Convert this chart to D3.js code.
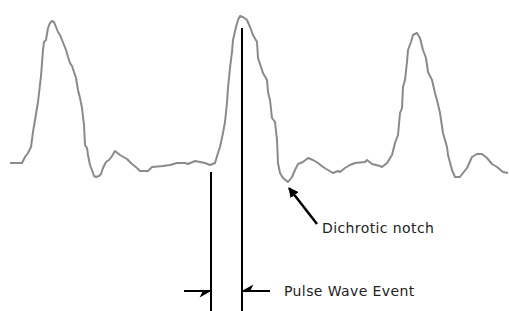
<!DOCTYPE html>
<html>
<head>
<meta charset="utf-8">
<script src="https://cdn.jsdelivr.net/npm/d3@7"></script>
<style>
  html, body { margin: 0; padding: 0; background: #fff; }
  svg { display: block; }
  text { font-family: "DejaVu Sans", sans-serif; font-size: 14px; letter-spacing: 0.4px; fill: #222; }
</style>
</head>
<body>
<div id="chart"></div>
<script>
// waveform samples (sample index) and amplitude
const sampleIdx = [10, 22, 25, 28, 31, 33, 35, 38, 41, 43, 44, 46, 48, 50, 52, 54, 56, 58, 60, 62, 64, 66, 68, 70, 72, 74, 76, 78, 80, 82, 84, 85, 87, 88, 90, 92, 94, 96, 99, 101, 103, 106, 109, 112, 115, 120, 127, 132, 137, 140, 148, 152, 163,
  170, 177, 185, 188, 195, 200, 205, 210, 215, 218, 220, 223, 225, 227, 228, 230, 232, 233, 236, 238, 240, 243, 247, 250, 253, 257, 258, 261, 263, 267, 268, 270, 272, 275, 277, 278, 280, 283, 288, 292, 295, 298, 303, 308, 313, 318, 323, 328, 333, 338,
  340, 345, 350, 355, 365, 367, 372, 380, 382, 387, 392, 395, 398, 400, 402, 403, 405, 407, 408, 411, 413, 417, 420, 423, 426, 428, 432, 435, 437, 440, 443, 447, 448, 452, 455, 460, 463, 467, 472, 477, 482, 487, 492, 497, 503, 508];
const pressure = [37, 37, 43, 47, 53, 68, 80, 98, 124, 150, 158, 160, 172, 177, 179, 178, 173, 168, 165, 160, 155, 150, 143, 137, 134, 128, 122, 110, 102, 92, 75, 55, 52, 45, 35, 30, 24, 23, 24, 26, 32, 38, 40, 44, 49, 45, 41, 36, 32, 29, 29, 33, 34,
  35, 37, 37, 36, 39, 38, 37, 35, 37, 47, 53, 67, 78, 97, 112, 132, 148, 160, 173, 180, 184, 183, 180, 173, 165, 158, 142, 133, 127, 120, 108, 100, 82, 78, 60, 37, 27, 22, 18, 23, 30, 36, 38, 42, 40, 37, 33, 30, 27, 29,
  28, 32, 35, 37, 38, 40, 36, 34, 33, 37, 45, 57, 65, 87, 92, 113, 120, 138, 150, 158, 165, 167, 162, 150, 142, 128, 120, 107, 100, 87, 67, 53, 45, 30, 23, 23, 27, 32, 43, 46, 46, 42, 36, 33, 28, 27];

// annotation positions (sample index)
const eventStart = 211, eventPeak = 242;
const notchSample = 289;
const labels = ["Dichrotic notch", "Pulse Wave Event"];

const width = 509, height = 311;

const x = d3.scaleLinear().domain([0, 509]).range([0, width]);
const y = d3.scaleLinear().domain([0, 200]).range([200, 0]);

const svg = d3.select("#chart").append("svg").attr("width", width).attr("height", height);

svg.append("defs").append("marker")
  .attr("id", "head").attr("viewBox", "0 0 10 10").attr("refX", 9).attr("refY", 5)
  .attr("markerWidth", 4).attr("markerHeight", 4).attr("orient", "auto")
  .append("path").attr("d", "M0,0 L10,5 L0,10 Z").attr("fill", "#000");

const pts = sampleIdx.map((s, i) => [s, pressure[i]]);
const line = d3.line().x(d => x(d[0])).y(d => y(d[1]));

svg.append("path").datum(pts)
  .attr("d", line)
  .attr("fill", "none").attr("stroke", "#8a8a8a").attr("stroke-width", 2)
  .attr("stroke-linejoin", "round");

// event markers
const ann = svg.append("g").attr("stroke", "#000").attr("stroke-width", 2);
ann.append("line").attr("x1", x(eventStart)).attr("x2", x(eventStart)).attr("y1", 172).attr("y2", height);
ann.append("line").attr("x1", x(eventPeak)).attr("x2", x(eventPeak)).attr("y1", 28).attr("y2", height);

const ay = 291;
ann.append("line").attr("x1", x(eventStart) - 27).attr("x2", x(eventStart) - 1).attr("y1", ay).attr("y2", ay);
ann.append("line").attr("x1", x(eventPeak) + 28).attr("x2", x(eventPeak) + 1).attr("y1", ay).attr("y2", ay);
// half barbs
svg.append("path")
  .attr("d", `M${x(eventStart) - 1},${ay} L${x(eventStart) - 10},${ay + 5} L${x(eventStart) - 8},${ay + 1} Z`)
  .attr("fill", "#000").attr("stroke", "#000").attr("stroke-width", 1.2);
svg.append("path")
  .attr("d", `M${x(eventPeak) + 1},${ay} L${x(eventPeak) + 10},${ay - 5} L${x(eventPeak) + 8},${ay - 1} Z`)
  .attr("fill", "#000").attr("stroke", "#000").attr("stroke-width", 1.2);

// notch arrow
svg.append("line")
  .attr("x1", 317).attr("y1", 224)
  .attr("x2", x(notchSample)).attr("y2", 188)
  .attr("stroke", "#000").attr("stroke-width", 2.5)
  .attr("marker-end", "url(#head)");

svg.append("text").attr("x", 322).attr("y", 233).text(labels[0]);
svg.append("text").attr("x", 284).attr("y", 296).text(labels[1]);
</script>
</body>
</html>
